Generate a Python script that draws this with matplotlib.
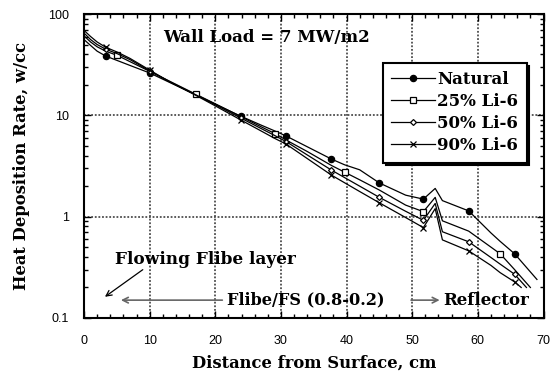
import matplotlib
matplotlib.use("Agg")
import matplotlib.pyplot as plt
import numpy as np

# depth into blanket (cm), shared by all four curves
depth = [0, 1, 2, 3.3, 5.1, 7, 10, 13, 17, 20, 23.9, 27, 29.1, 30.8, 34,
         37.7, 39.7, 42, 45, 49, 51.7, 53.5, 54.6, 58.6, 62, 63.4, 65.6]

natural = [56, 49, 43, 38.5, 34.7, 31.1, 26.2, 21.2, 16, 12.9, 9.8, 8.0, 7.0,
           6.25, 4.9, 3.7, 3.25, 2.9, 2.15, 1.63, 1.49, 1.9, 1.44, 1.14,
           0.69, 0.57, 0.43]
li25 = [61, 53, 47.5, 43, 39, 33.9, 27.2, 21.8, 16.2, 13, 9.7, 7.7, 6.6, 5.7,
        4.4, 3.2, 2.75, 2.31, 1.83, 1.3, 1.12, 1.55, 0.91, 0.72, 0.5, 0.43,
        0.3]
li50 = [65, 56, 50, 45, 40.5, 35.5, 27.5, 21.5, 16, 12.7, 9.4, 7.4, 6.3, 5.5,
        4.07, 2.88, 2.43, 2.0, 1.55, 1.13, 0.92, 1.35, 0.71, 0.565, 0.395,
        0.34, 0.27]
li90 = [69, 60, 53, 47, 42, 36.5, 28, 21.5, 15.8, 12.4, 9.0, 7.0, 5.9, 5.2,
        3.75, 2.57, 2.16, 1.77, 1.37, 0.98, 0.78, 1.2, 0.59, 0.46, 0.33, 0.28,
        0.227]

# last point of each curve
end_depth = [69, 68, 67.4, 66.6]
end_value = [0.24, 0.2, 0.2, 0.2]

labels = ["Natural", "25% Li-6", "50% Li-6", "90% Li-6"]

# which points carry a symbol
marks_round = [3, 6, 10, 13, 15, 18, 20, 23, 26]
marks_square = [4, 8, 12, 16, 20, 25]

serif = "DejaVu Serif"
sans = "Liberation Sans"

fig = plt.figure(figsize=(5.5, 3.79), dpi=100)
ax = fig.add_axes([0.1527, 0.161, 0.8355, 0.802])

styles = [
    dict(marker="o", markersize=4.5, markerfacecolor="k", markevery=marks_round),
    dict(marker="s", markersize=4.2, markerfacecolor="w", markevery=marks_square),
    dict(marker="D", markersize=3.0, markerfacecolor="w", markevery=marks_round),
    dict(marker="x", markersize=4.5, markevery=marks_round),
]
series = [natural, li25, li50, li90]
for vals, lab, st, xe, ye in zip(series, labels, styles, end_depth, end_value):
    xs = depth + [xe]
    ys = vals + [ye]
    ax.plot(xs, ys, color="k", lw=0.9, markeredgecolor="k",
            markeredgewidth=0.9, label=lab, **st)

ax.set_yscale("log")
ax.set_xlim(0, 70)
ax.set_ylim(0.1, 100)
ax.set_xticks(range(0, 71, 10))
ax.set_xticks(range(0, 71, 2), minor=True)
ax.set_yticks([0.1, 1, 10, 100])
ax.set_yticklabels(["0.1", "1", "10", "100"])
ax.tick_params(which="both", direction="in", top=True, right=True,
               labelsize=9, width=1)
ax.tick_params(which="major", length=5)
ax.tick_params(which="minor", length=3)
ax.tick_params(axis="x", pad=12)
ax.tick_params(axis="y", pad=11)
for t in ax.get_xticklabels() + ax.get_yticklabels():
    t.set_fontfamily(sans)
for s in ax.spines.values():
    s.set_linewidth(1.5)

ax.grid(True, which="major", color="0.3", lw=1.3, ls=(0, (1, 1)))

ax.set_xlabel("Distance from Surface, cm", fontfamily=serif,
              fontweight="bold", fontsize=11.8, labelpad=6)
ax.set_ylabel("Heat Deposition Rate, w/cc", fontfamily=serif,
              fontweight="bold", fontsize=11.8, labelpad=13)

ax.text(12, 58, "Wall Load = 7 MW/m2", fontfamily=serif, fontweight="bold",
        fontsize=12, va="center")

leg = ax.legend(loc="upper left", bbox_to_anchor=(0.651, 0.839),
                borderaxespad=0, fancybox=False, framealpha=1,
                edgecolor="k", handlelength=2.6, handletextpad=0.15,
                labelspacing=0.3, borderpad=0.5,
                shadow={"color": "k", "alpha": 1},
                prop={"family": serif, "weight": "bold", "size": 12})
leg.get_frame().set_linewidth(1.5)

ax.text(4.7, 0.38, "Flowing Flibe layer", fontfamily=serif,
        fontweight="bold", fontsize=12.2, va="center")
ax.annotate("", xy=(2.85, 0.156), xytext=(9.3, 0.311),
            arrowprops=dict(arrowstyle="->", color="k", lw=0.9))
ax.text(21.8, 0.15, "Flibe/FS (0.8-0.2)", fontfamily=serif,
        fontweight="bold", fontsize=11.6, va="center")
ax.annotate("", xy=(5.2, 0.15), xytext=(21.5, 0.15),
            arrowprops=dict(arrowstyle="->", color="0.4", lw=1.2))
ax.text(54.7, 0.15, "Reflector", fontfamily=serif,
        fontweight="bold", fontsize=12, va="center")
ax.annotate("", xy=(54.6, 0.15), xytext=(49.4, 0.15),
            arrowprops=dict(arrowstyle="->", color="0.4", lw=1.2))

fig.savefig("out.png", dpi=100)
